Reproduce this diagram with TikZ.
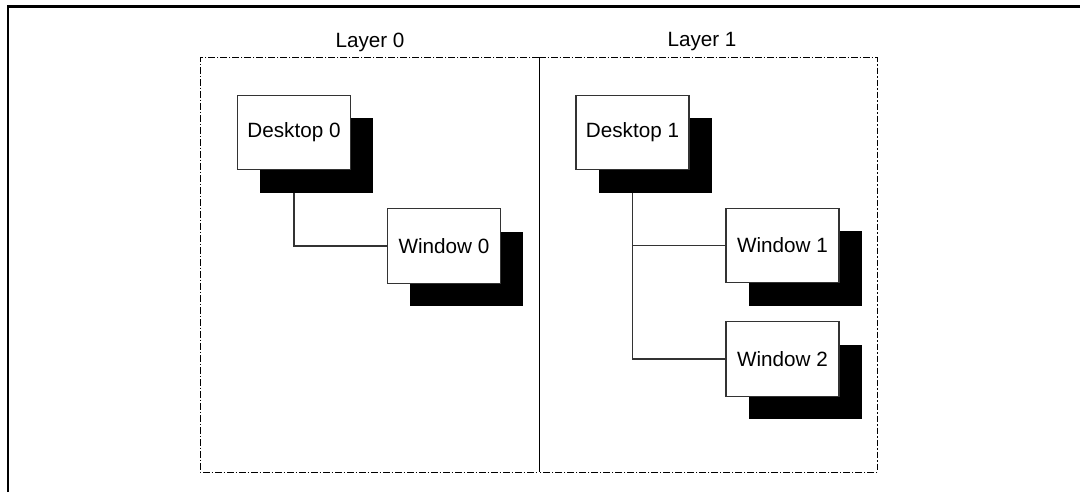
\documentclass[tikz,border=0pt]{standalone}
\usepackage{fontspec}
\setmainfont{Liberation Sans}
\begin{document}
\begin{tikzpicture}[x=0.75pt,y=-0.75pt,
  box/.style={draw=black!80,line width=0.8pt,fill=white,minimum width=84.75pt,minimum height=56pt,inner sep=0pt,font=\fontsize{15.5}{18}\selectfont},
  shadowbox/.style={fill=black,minimum width=84.75pt,minimum height=56pt,inner sep=0pt},
  conn/.style={draw=black!80,line width=0.8pt},
  layerframe/.style={line width=0.75pt,dash pattern=on 5pt off 1.5pt on 1pt off 1.5pt},
  lbl/.style={font=\fontsize{15.5}{18}\selectfont,inner sep=0pt}]
\useasboundingbox (0,0) rectangle (1080,492);
% outer frame
\draw[line width=1.6pt] (8,492) -- (8,6.5) -- (1080,6.5);
% layer labels
\node[lbl] (l0) at (370,42) {Layer 0};
\node[lbl] (l1) at (702,42) {Layer 1};
% layer frames
\draw[layerframe] (539,58) -- (200,58) -- (200,472) -- (539,472);
\draw[layerframe] (539,58) -- (877.5,58) -- (877.5,472) -- (539,472);
\draw[line width=0.75pt] (539,58) -- (539,472);
% box coordinates
\coordinate (c0) at (294,132.5);
\coordinate (c1) at (444,246);
\coordinate (c2) at (632.5,132.5);
\coordinate (c3) at (782.5,245.5);
\coordinate (c4) at (782.5,359);
% shadows
\node[shadowbox] (d0s) at ([shift={(22.5,23)}]c0) {};
\node[shadowbox] (w0s) at ([shift={(22.5,23)}]c1) {};
\node[shadowbox] (d1s) at ([shift={(22.5,23)}]c2) {};
\node[shadowbox] (w1s) at ([shift={(22.5,23)}]c3) {};
\node[shadowbox] (w2s) at ([shift={(22.5,23)}]c4) {};
% boxes
\node[box] (d0) at (c0) {Desktop 0};
\node[box] (w0) at (c1) {Window 0};
\node[box] (d1) at (c2) {Desktop 1};
\node[box] (w1) at (c3) {Window 1};
\node[box] (w2) at (c4) {Window 2};
% connectors
\draw[conn] (d0s.south -| d0.south) |- (w0.west);
\draw[conn] (d1s.south -| d1.south) |- (w1.west);
\draw[conn] (d1s.south -| d1.south) |- (w2.west);
\end{tikzpicture}
\end{document}
